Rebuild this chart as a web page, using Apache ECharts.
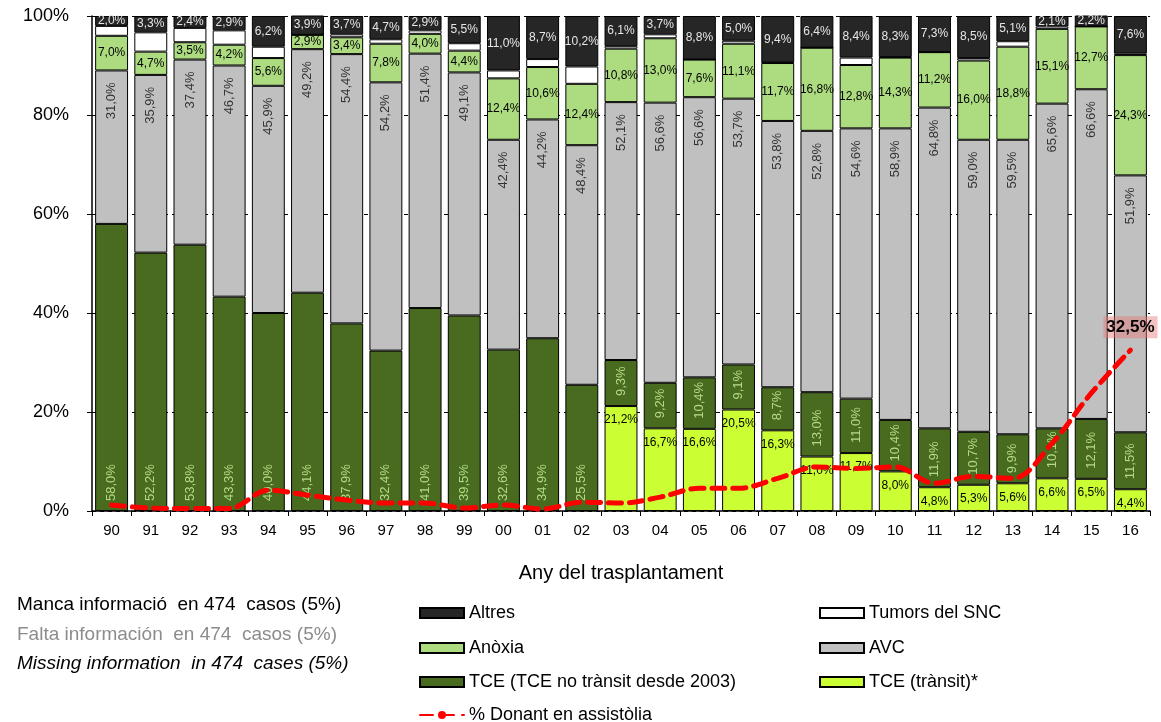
<!DOCTYPE html>
<html>
<head>
<meta charset="utf-8">
<script src="https://cdn.jsdelivr.net/npm/echarts@6/dist/echarts.min.js"></script>
<style>
  body { margin: 0; background: #fff; }
  #main { width: 1161px; height: 722px; }
</style>
</head>
<body>
<div id="main"></div>
<script>
var years = ['90','91','92','93','94','95','96','97','98','99','00','01','02','03','04','05','06','07','08','09','10','11','12','13','14','15','16'];

// percentages
var tceTransit = [null,null,null,null,null,null,null,null,null,null,null,null,null,21.2,16.7,16.6,20.5,16.3,11.0,11.7,8.0,4.8,5.3,5.6,6.6,6.5,4.4];
var tce = [58.0,52.2,53.8,43.3,40.0,44.1,37.9,32.4,41.0,39.5,32.6,34.9,25.5,9.3,9.2,10.4,9.1,8.7,13.0,11.0,10.4,11.9,10.7,9.9,10.1,12.1,11.5];
var avc = [31.0,35.9,37.4,46.7,45.9,49.2,54.4,54.2,51.4,49.1,42.4,44.2,48.4,52.1,56.6,56.6,53.7,53.8,52.8,54.6,58.9,64.8,59.0,59.5,65.6,66.6,51.9];
var anoxia = [7.0,4.7,3.5,4.2,5.6,2.9,3.4,7.8,4.0,4.4,12.4,10.6,12.4,10.8,13.0,7.6,11.1,11.7,16.8,12.8,14.3,11.2,16.0,18.8,15.1,12.7,24.3];
var tumors = [2.0,3.9,2.9,2.9,2.3,0,0.6,0.9,0.7,1.5,1.6,1.6,3.5,0.5,0.8,0,0.6,0.1,0,1.5,0.1,0,0.5,1.1,0.5,0,0.3];
var altres = [2.0,3.3,2.4,2.9,6.2,3.9,3.7,4.7,2.9,5.5,11.0,8.7,10.2,6.1,3.7,8.8,5.0,9.4,6.4,8.4,8.3,7.3,8.5,5.1,2.1,2.2,7.6];
var assistolia = [1.2,0.6,0.5,0.5,4.2,3.2,2.2,1.6,1.6,0.6,1.2,0.4,1.8,1.6,2.8,4.6,4.6,6.6,8.9,8.6,8.9,5.6,7.0,6.6,13.7,23.8,32.5];

var yTicks = [0, 20, 40, 60, 80, 100];

var FONT = 'Liberation Sans, Arial, sans-serif';

function pct(p) {
	return p.value.toFixed(1).replace('.', ',') + '%';
}

var chart = echarts.init(document.getElementById('main'), null, { renderer: 'canvas' });

var barBase = {
	type: 'bar',
	stack: 'total',
	barCategoryGap: '16%',
	itemStyle: { borderColor: '#000', borderWidth: 1 }
};

// only the last point of the line carries a label
var lineData = assistolia.map(function (v, i) {
	if (i !== assistolia.length - 1) return v;
	return {
		value: v,
		label: {
			show: true,
			position: 'top',
			distance: 12,
			formatter: pct,
			color: '#000',
			fontSize: 17,
			fontWeight: 'bold',
			fontFamily: FONT,
			backgroundColor: 'rgba(232,120,120,0.45)',
			padding: [3, 3, 2, 3]
		}
	};
});

// one legend per entry so the two columns line up like the original
function legendItem(name, x, y) {
	return {
		left: x,
		top: y,
		icon: name === '% Donant en assistòlia' ? undefined : 'rect',
		itemWidth: 44,
		itemHeight: 10,
		itemGap: 2,
		textStyle: { fontSize: 18, color: '#000', fontFamily: FONT },
		data: [name]
	};
}

var option = {
	backgroundColor: '#fff',
	textStyle: { fontFamily: FONT },
	animation: false,
	grid: { left: 92, right: 11, top: 16, bottom: 211 },
	legend: [
		legendItem('Altres', 414, 599),
		legendItem('Tumors del SNC', 814, 599),
		legendItem('Anòxia', 414, 634),
		legendItem('AVC', 814, 634),
		legendItem('TCE (TCE no trànsit desde 2003)', 414, 668),
		legendItem('TCE (trànsit)*', 814, 668),
		legendItem('% Donant en assistòlia', 414, 701)
	],
	graphic: [
		{ type: 'text', left: 17, top: 595, style: { text: 'Manca informació  en 474  casos (5%)', fill: '#000', font: '19px ' + FONT } },
		{ type: 'text', left: 17, top: 625, style: { text: 'Falta información  en 474  casos (5%)', fill: '#8c8c8c', font: '19px ' + FONT } },
		{ type: 'text', left: 17, top: 654, style: { text: 'Missing information  in 474  cases (5%)', fill: '#000', font: 'italic 19px ' + FONT } }
	],
	xAxis: {
		type: 'category',
		data: years,
		name: 'Any del trasplantament',
		nameLocation: 'middle',
		nameGap: 52,
		nameTextStyle: { fontSize: 20, color: '#000', fontFamily: FONT },
		axisLine: { lineStyle: { color: '#000', width: 1.5 } },
		axisTick: { show: true, length: 5, lineStyle: { color: '#000' } },
		axisLabel: { fontSize: 15, color: '#000', margin: 12, interval: 0 }
	},
	yAxis: {
		type: 'value',
		min: yTicks[0],
		max: yTicks[yTicks.length - 1],
		interval: yTicks[1] - yTicks[0],
		axisLine: { show: true, lineStyle: { color: '#000', width: 1.5 } },
		axisTick: { show: true, length: 5, lineStyle: { color: '#000' } },
		axisLabel: { fontSize: 18, color: '#000', margin: 23, formatter: '{value}%' },
		splitLine: { show: true, lineStyle: { color: '#000', type: [4, 4], width: 1 } }
	},
	series: [
		Object.assign({}, barBase, {
			name: 'TCE (trànsit)*',
			data: tceTransit,
			itemStyle: { color: '#ccff33', borderColor: '#000', borderWidth: 1 },
			label: { show: true, position: 'insideTop', distance: 8, fontSize: 12, color: '#000', formatter: pct }
		}),
		Object.assign({}, barBase, {
			name: 'TCE (TCE no trànsit desde 2003)',
			data: tce,
			itemStyle: { color: '#486b1f', borderColor: '#000', borderWidth: 1 },
			label: { show: true, position: 'insideBottom', distance: 10, rotate: 90, align: 'left', verticalAlign: 'middle', fontSize: 13, color: '#b3dc86', formatter: pct }
		}),
		Object.assign({}, barBase, {
			name: 'AVC',
			data: avc,
			itemStyle: { color: '#c0c0c0', borderColor: '#000', borderWidth: 1 },
			label: { show: true, position: 'insideTop', distance: 12, rotate: 90, align: 'right', verticalAlign: 'middle', fontSize: 13, color: '#333', formatter: pct }
		}),
		Object.assign({}, barBase, {
			name: 'Anòxia',
			data: anoxia,
			itemStyle: { color: '#addc80', borderColor: '#000', borderWidth: 1 },
			label: { show: true, position: 'inside', fontSize: 12, color: '#000', formatter: pct }
		}),
		Object.assign({}, barBase, {
			name: 'Tumors del SNC',
			data: tumors,
			itemStyle: { color: '#ffffff', borderColor: '#000', borderWidth: 1 }
		}),
		Object.assign({}, barBase, {
			name: 'Altres',
			data: altres,
			itemStyle: { color: '#262626', borderColor: '#000', borderWidth: 1 },
			label: { show: true, position: 'inside', fontSize: 12, color: '#e6e6e6', formatter: pct }
		}),
		{
			name: '% Donant en assistòlia',
			type: 'line',
			data: lineData,
			smooth: 0.35,
			symbol: 'circle',
			symbolSize: 0,
			showSymbol: true,
			z: 5,
			lineStyle: { color: '#ff0000', width: 5, type: [13, 8], cap: 'round' },
			itemStyle: { color: '#ff0000' }
		}
	]
};

chart.setOption(option);
</script>
</body>
</html>
